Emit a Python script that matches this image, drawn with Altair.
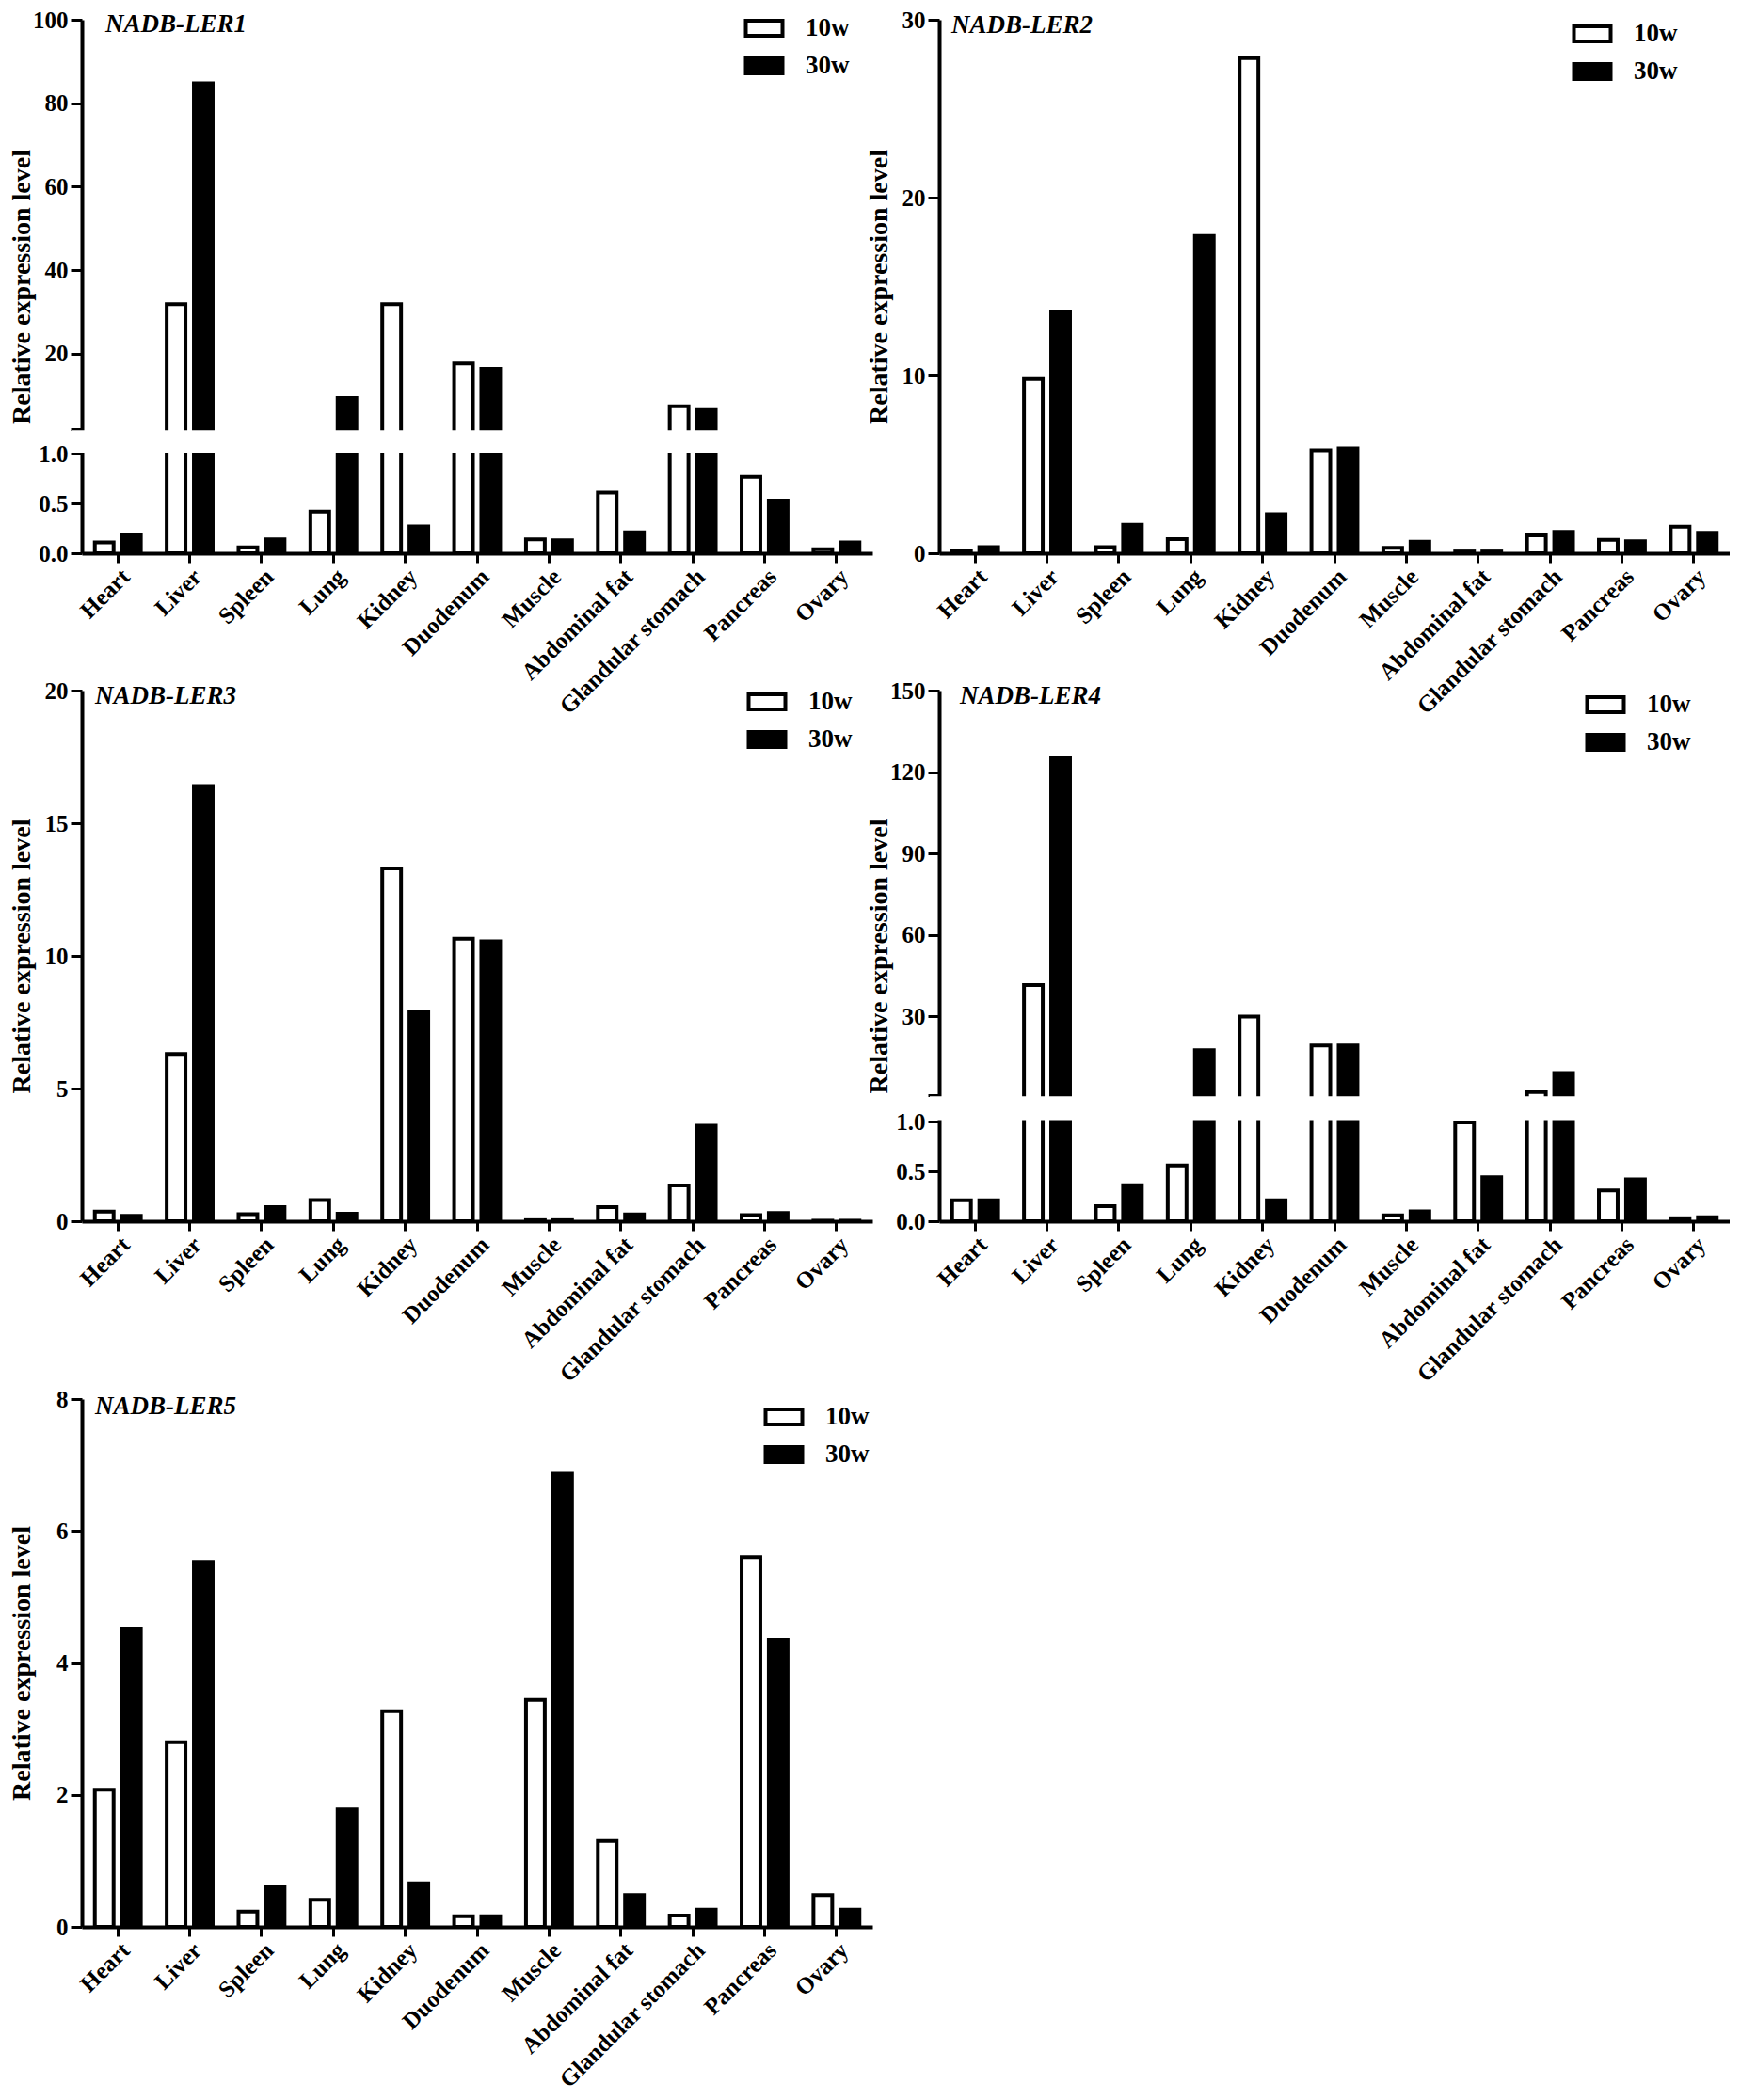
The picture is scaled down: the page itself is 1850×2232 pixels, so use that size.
import altair as alt
import pandas as pd

FONT = "Liberation Serif"

tissues = ["Heart", "Liver", "Spleen", "Lung", "Kidney", "Duodenum", "Muscle",
           "Abdominal fat", "Glandular stomach", "Pancreas", "Ovary"]
series = ["10w", "30w"]
genes = ["NADB-LER1", "NADB-LER2", "NADB-LER3", "NADB-LER4", "NADB-LER5"]

ler1_10w = [0.11, 31.9, 0.06, 0.42, 31.9, 17.7, 0.14, 0.61, 7.4, 0.77, 0.04]
ler1_30w = [0.18, 84.8, 0.14, 9.4, 0.27, 16.4, 0.13, 0.21, 6.5, 0.53, 0.11]

ler2_10w = [0.12, 9.8, 0.35, 0.8, 27.85, 5.8, 0.3, 0.1, 1.0, 0.75, 1.5]
ler2_30w = [0.35, 13.6, 1.6, 17.85, 2.2, 5.9, 0.65, 0.1, 1.2, 0.68, 1.15]

ler3_10w = [0.36, 6.3, 0.27, 0.8, 13.3, 10.65, 0.04, 0.53, 1.35, 0.23, 0.02]
ler3_30w = [0.2, 16.4, 0.53, 0.28, 7.9, 10.55, 0.04, 0.26, 3.6, 0.31, 0.02]

ler4_10w = [0.21, 41.5, 0.15, 0.56, 29.9, 19.2, 0.06, 0.99, 2.1, 0.31, 0.03]
ler4_30w = [0.21, 125.4, 0.36, 17.5, 0.21, 19.2, 0.1, 0.44, 9.1, 0.42, 0.04]

ler5_10w = [2.08, 2.8, 0.23, 0.41, 3.27, 0.16, 3.44, 1.3, 0.17, 5.6, 0.48]
ler5_30w = [4.52, 5.53, 0.6, 1.78, 0.66, 0.16, 6.88, 0.48, 0.26, 4.35, 0.26]

# y-axis tick values and broken-axis settings
ticks1 = [0, 0.5, 1, 2, 20, 40, 60, 80, 100]
ticks2 = [0, 10, 20, 30]
ticks3 = [0, 5, 10, 15, 20]
ticks4 = [0, 0.5, 1, 1.01, 30, 60, 90, 120, 150]
ticks5 = [0, 2, 4, 6, 8]
break1 = [1.0, 2.0]
break4 = [1.0, 1.01]

W = 840


def make_df(v10, v30):
    rows = []
    for t, a, b in zip(tissues, v10, v30):
        rows.append({"tissue": t, "series": "10w", "value": a})
        rows.append({"tissue": t, "series": "30w", "value": b})
    return pd.DataFrame(rows)


def panel(gene, v10, v30, H, domain, rng, yvals, broken, title_y,
          legend_xy, text_xy, brk=None):
    df = make_df(v10, v30)
    if broken:
        expr = ("datum.value > 1 && datum.value < 3 ? '' : "
                "(datum.value <= 1 ? format(datum.value, '.1f') : format(datum.value, 'd'))")
    else:
        expr = "format(datum.value, 'd')"
    yaxis = alt.Axis(values=yvals, labelExpr=expr,
                     title="Relative expression level", titleX=-50, titleY=title_y,
                     titleAngle=270, titleAlign="center", titleBaseline="bottom",
                     titleFont=FONT, titleFontSize=28, titleFontWeight="bold",
                     titleColor="black",
                     labelFont=FONT, labelFontSize=25, labelFontWeight="bold",
                     labelColor="black", labelPadding=3,
                     tickSize=12, tickWidth=3, tickColor="black",
                     domainColor="black", domainWidth=4, grid=False, zindex=0)
    xaxis = alt.Axis(title=None, labelAngle=-45, labelFont=FONT, labelFontSize=25,
                     labelFontWeight="bold", labelColor="black", labelPadding=2,
                     labelLimit=400, tickSize=10, tickWidth=3, tickColor="black",
                     domainColor="black", domainWidth=4, grid=False, zindex=0)
    legend = alt.Legend(title=None, orient="none", legendX=legend_xy[0],
                        legendY=legend_xy[1], direction="vertical",
                        symbolType="M-0.975,-0.4H0.975V0.4H-0.975Z", symbolSize=1600,
                        symbolStrokeColor="black", symbolStrokeWidth=4,
                        labelFont=FONT, labelFontSize=27, labelFontWeight="bold",
                        labelColor="black", labelOffset=22, rowPadding=2, padding=0)
    yscale = alt.Scale(domain=domain, range=rng, nice=False, zero=False)
    bars = alt.Chart(df).mark_bar(stroke="black", strokeWidth=4).encode(
        x=alt.X("tissue:N", sort=tissues,
                scale=alt.Scale(paddingInner=0.36, paddingOuter=0.18), axis=xaxis),
        xOffset=alt.XOffset("series:N", sort=series,
                            scale=alt.Scale(paddingInner=0.31, paddingOuter=0)),
        y=alt.Y("value:Q", stack=None, scale=yscale, axis=yaxis),
        fill=alt.Fill("series:N", sort=series,
                      scale=alt.Scale(domain=series, range=["white", "black"]),
                      legend=legend),
    )
    tdf = pd.DataFrame({"gene": [gene]})
    txt = alt.Chart(tdf).mark_text(align="left", baseline="middle", font=FONT,
                                   fontSize=27, fontStyle="italic", fontWeight="bold",
                                   color="black").encode(
        x=alt.value(text_xy[0]), y=alt.value(text_xy[1]), text="gene:N")
    layers = [bars]
    if brk is not None:
        gdf = pd.DataFrame({"value": [brk[0]], "hi": [brk[1]]})
        gap = alt.Chart(gdf).mark_rect(fill="white", yOffset=-1.5, y2Offset=1.5).encode(
            x=alt.value(-10), x2=alt.value(W),
            y=alt.Y("value:Q", scale=yscale, axis=yaxis), y2="hi:Q")
        layers.append(gap)
    layers.append(txt)
    return alt.layer(*layers).properties(width=W, height=H)


p1 = panel(genes[0], ler1_10w, ler1_30w, 567, [0, 1, 2, 100], [567, 461.4, 434.8, 0],
           ticks1, True, 283.5, (703, -13), (25, 5), brk=break1)
p2 = panel(genes[1], ler2_10w, ler2_30w, 567, [0, 30], [567, 0],
           ticks2, False, 283.5, (672, -7), (13, 6))
p3 = panel(genes[2], ler3_10w, ler3_30w, 564, [0, 20], [564, 0],
           ticks3, False, 282, (706, -10), (14, 6))
p4 = panel(genes[3], ler4_10w, ler4_30w, 564, [0, 1, 1.01, 150], [564, 458, 429.8, 0],
           ticks4, True, 282, (686, -7), (22, 6), brk=break4)
p5 = panel(genes[4], ler5_10w, ler5_30w, 604, [0, 8], [604, 43],
           ticks5, False, 323.5, (724, 40), (14, 50.5))

chart = alt.concat(p1, p2, p3, p4, p5, columns=2,
                   spacing={"row": 146, "column": 71}).properties(
    bounds="flush", align="each", padding=0, background="white"
).resolve_legend(fill="independent").configure_view(stroke=None)

chart.save("out.html", embed_options={"renderer": "svg", "actions": False})
